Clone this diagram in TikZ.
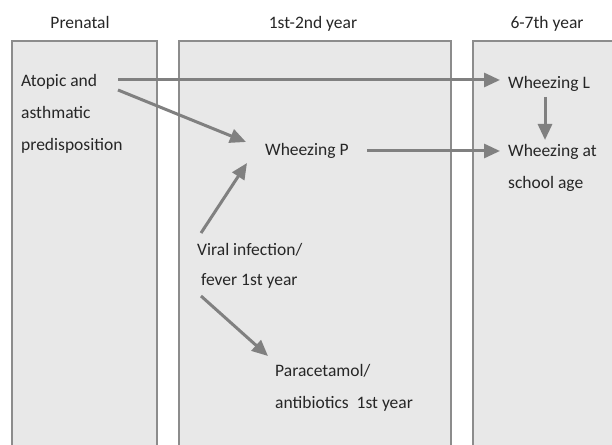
\documentclass[tikz,border=0pt]{standalone}
\usepackage{fontspec}
\setmainfont{Carlito}
\usetikzlibrary{arrows.meta}
\definecolor{boxfill}{HTML}{E8E8E8}
\definecolor{boxline}{HTML}{8C8C8C}
\definecolor{arrowc}{HTML}{808080}
\definecolor{txt}{HTML}{262626}
\begin{document}
\begin{tikzpicture}[x=1pt,y=1pt,
  lbl/.style={inner sep=0pt, anchor=base west, text=txt, font=\fontsize{17.5}{21}\selectfont},
  head/.style={inner sep=0pt, anchor=base, text=txt, font=\fontsize{17.5}{21}\selectfont},
  period/.style={fill=boxfill, draw=boxline, line width=1.2pt},
  arr/.style={draw=arrowc, line width=3pt, -{Triangle[length=16pt,width=14pt]}}]
\useasboundingbox (0,0) rectangle (612,444);
\begin{scope}
\clip (0,0) rectangle (612,444);
\path[period] (12,403) rectangle (157,-5);
\path[period] (179,403) rectangle (451,-5);
\path[period] (473,403) rectangle (625,-5);
\end{scope}
\node[head] (h1) at (80,415) {Prenatal};
\node[head] (h2) at (313,415) {1st-2nd year};
\node[head] (h3) at (547,415) {6-7th year};
\node[lbl] (atopic1) at (21,357) {Atopic and};
\node[lbl] (atopic2) at (21,325) {asthmatic};
\node[lbl] (atopic3) at (21,293) {predisposition};
\node[lbl] (wheezP) at (265,288) {Wheezing P};
\node[lbl] (wheezL) at (508,355) {Wheezing L};
\node[lbl] (wheezS1) at (508,287) {Wheezing at};
\node[lbl] (wheezS2) at (508,255) {school age};
\node[lbl] (viral1) at (197,188) {Viral infection/};
\node[lbl] (viral2) at (201,158) {fever 1st year};
\node[lbl] (para1) at (275,67) {Paracetamol/};
\node[lbl] (para2) at (275,36) {antibiotics\ \ 1st year};
\draw[arr] ([shift={(97,7)}]atopic1.base west) -- ([shift={(-8,9)}]wheezL.base west);
\draw[arr] ([shift={(97,-3)}]atopic1.base west) -- ([shift={(-19,14)}]wheezP.base west);
\draw[arr] ([shift={(4,23)}]viral1.base west) -- ([shift={(-18,-7)}]wheezP.base west);
\draw[arr] ([shift={(0,-10)}]viral2.base west) -- ([shift={(-7,21)}]para1.base west);
\draw[arr] ([shift={(102,5)}]wheezP.base west) -- ([shift={(-8,6)}]wheezS1.base west);
\draw[arr] ([shift={(37,-8)}]wheezL.base west) -- ([shift={(37,17)}]wheezS1.base west);
\end{tikzpicture}
\end{document}
